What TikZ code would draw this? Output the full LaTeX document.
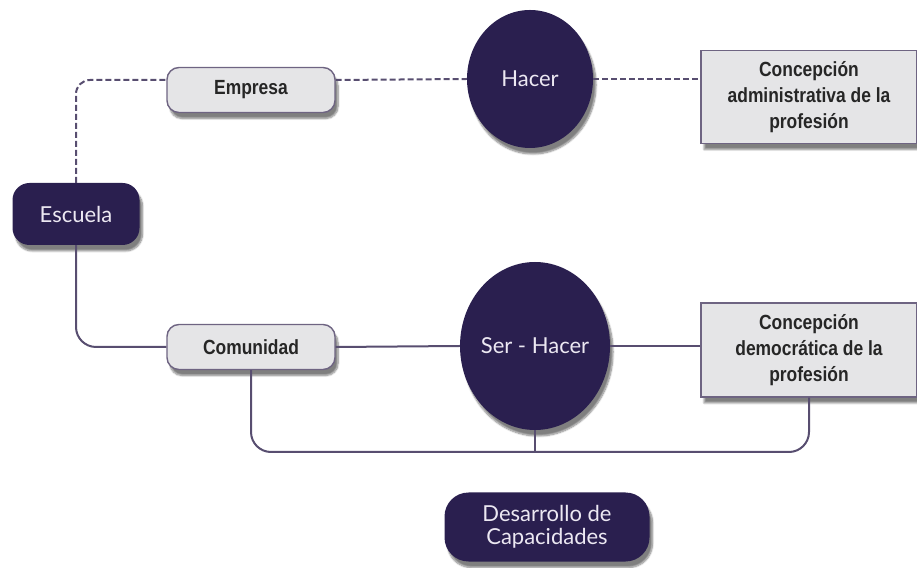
\documentclass[tikz,border=0pt]{standalone}
\usepackage{fontspec}
\usetikzlibrary{shapes.geometric,shadows.blur}
\newfontfamily\darkfont{Lato}
\newfontfamily\boxfont[FakeStretch=0.85]{Liberation Sans}
\definecolor{navy}{RGB}{42,31,79}
\definecolor{linkcol}{RGB}{88,78,112}
\definecolor{boxfill}{RGB}{229,229,231}
\definecolor{boxline}{RGB}{110,100,130}
\definecolor{darktext}{RGB}{236,232,242}

\begin{document}
\begin{tikzpicture}[x=1pt,y=1pt,
  sombra/.style={blur shadow={shadow xshift=3pt,shadow yshift=-6pt,shadow opacity=50,shadow blur steps=8}},
  oscuro/.style={fill=navy,text=darktext,font=\darkfont\fontsize{22}{23}\selectfont,align=center,rounded corners=17pt,sombra},
  circulo/.style={ellipse,fill=navy,text=darktext,font=\darkfont\fontsize{22}{23}\selectfont,inner sep=0pt,inner xsep=-12pt,sombra},
  gris/.style={fill=boxfill,draw=boxline,line width=1.4pt,text=black!85,font=\boxfont\bfseries\fontsize{20.5}{26}\selectfont,align=center,sombra},
  link/.style={draw=linkcol,line width=2pt}]
\useasboundingbox (0,0) rectangle (917,567);

\node[oscuro, minimum width=127pt, minimum height=62pt] (esc) at (76,353) {Escuela};

\node[gris, rounded corners=12pt, minimum width=168pt, minimum height=45pt] (emp) at (251,477) {Empresa};
\node[gris, rounded corners=12pt, minimum width=168pt, minimum height=45pt] (com) at (251,220) {Comunidad};

\node[circulo, minimum width=126pt, minimum height=138pt] (hac) at (530,488) {Hacer};
\node[circulo, minimum width=150pt, minimum height=168pt] (ser) at (535,221) {Ser - Hacer};

\node[gris, minimum width=216pt, minimum height=93pt] (adm) at (809,470) {Concepción\\administrativa de la\\profesión};
\node[gris, minimum width=216pt, minimum height=94pt] (dem) at (809,217) {Concepción\\democrática de la\\profesión};

\node[oscuro, rounded corners=24pt, minimum width=205pt, minimum height=69pt] (des) at (547,40) {Desarrollo de\\Capacidades};

% linea de la empresa
\draw[link, dash pattern=on 6pt off 3pt, rounded corners=14pt] (esc.north) |- ([yshift=10pt]emp.west);
\draw[link, dash pattern=on 6pt off 3pt] ([yshift=10pt]emp.east) -- (hac.west);
\draw[link, dash pattern=on 6pt off 3pt] (hac.east) -- (adm.west |- hac.east);

% linea de la comunidad
\draw[link, rounded corners=20pt] (esc.south) |- (com.west);
\draw[link] (com.east) -- (ser.west);
\draw[link] (ser.east) -- (dem.west |- ser.east);
\coordinate (base) at (ser.south |- 0,115);
\draw[link, rounded corners=20pt] (com.south) |- (base) -| (dem.south);
\draw[link] (ser.south) -- (base);

\end{tikzpicture}
\end{document}
